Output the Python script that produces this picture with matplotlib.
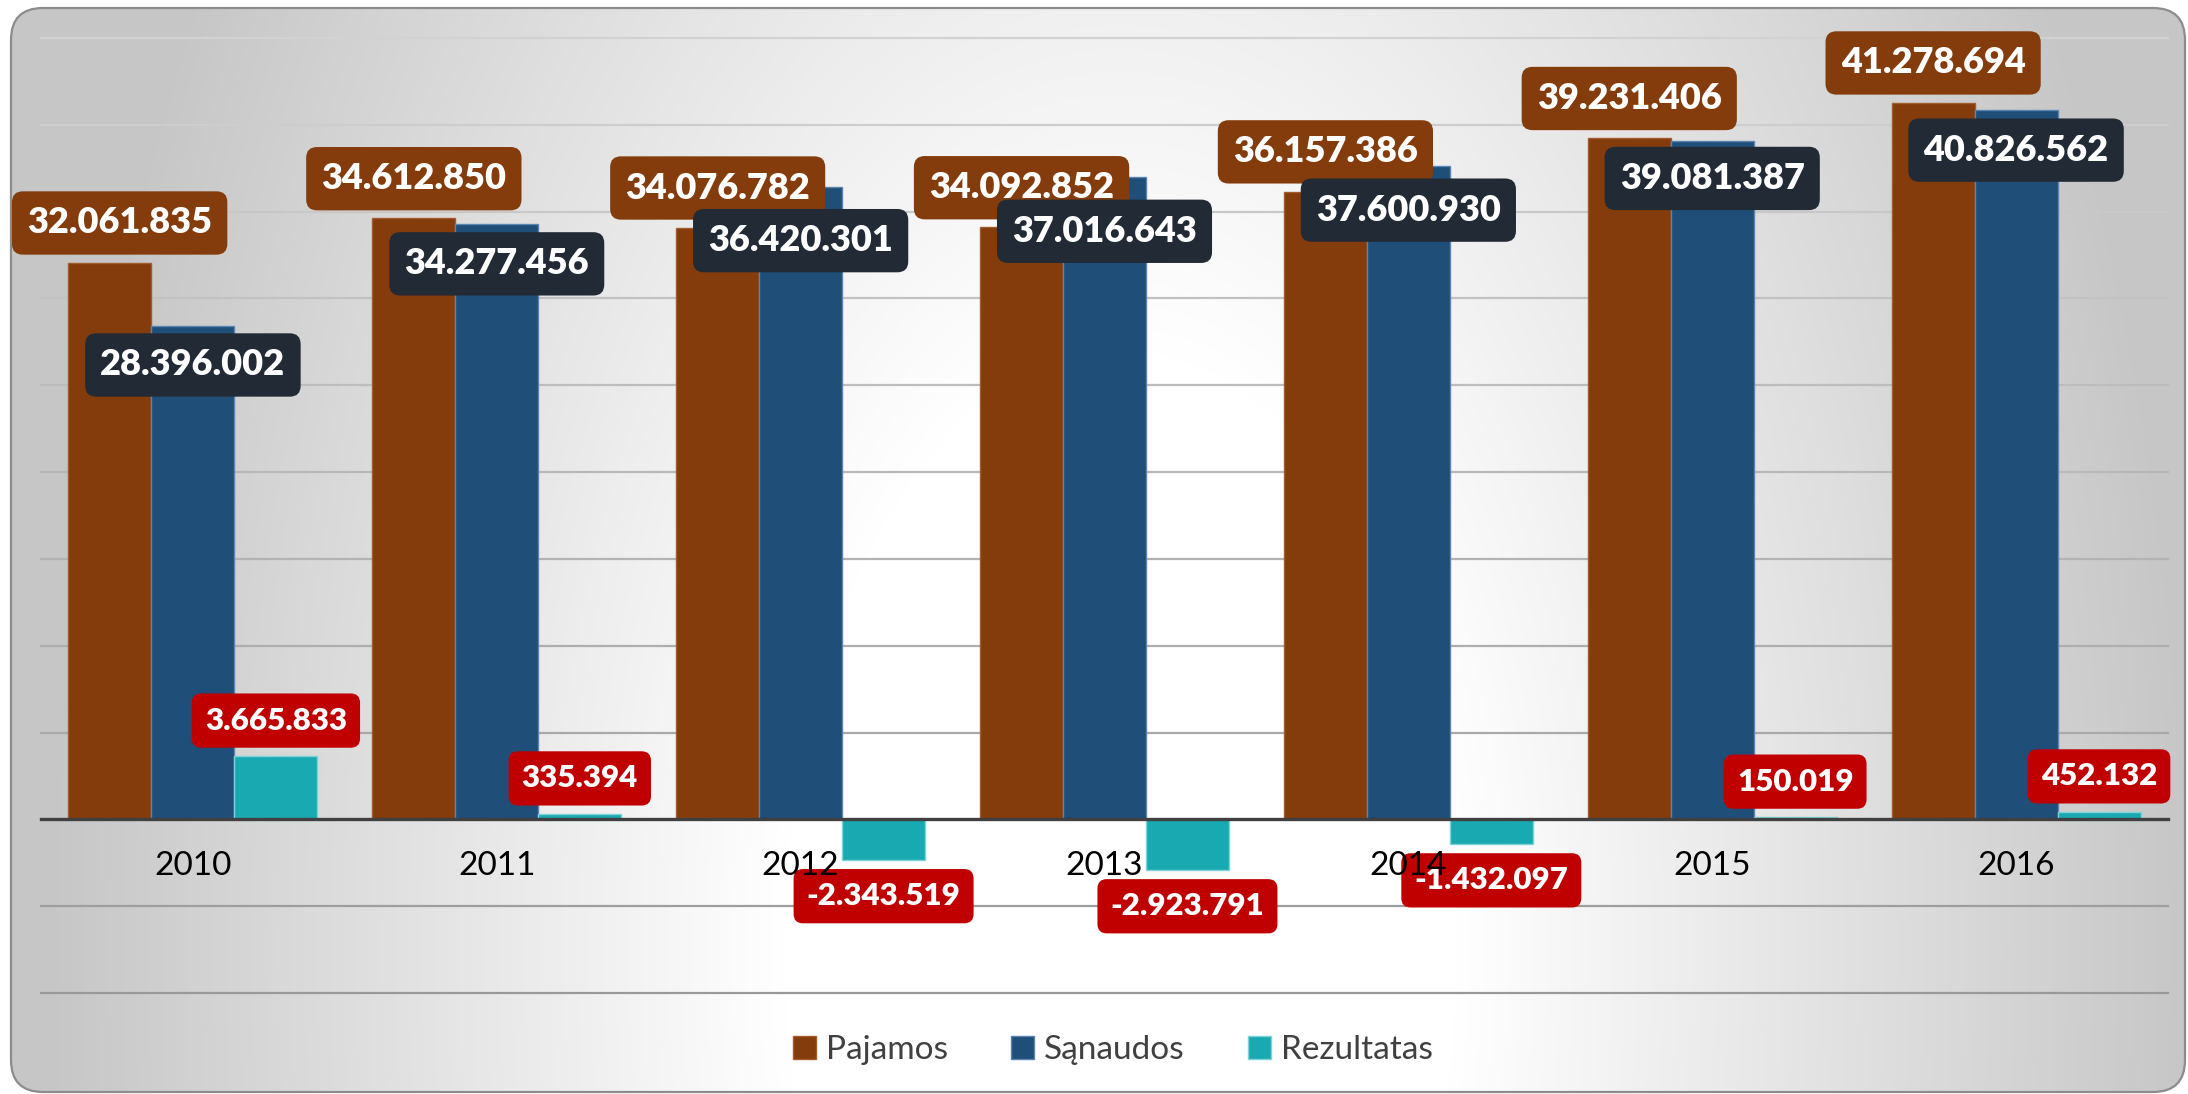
import numpy as np
import matplotlib
matplotlib.use("Agg")
import matplotlib.pyplot as plt
from matplotlib.patches import FancyBboxPatch, Patch
from matplotlib.colors import to_rgb

# ---------------- data ----------------
years = ["2010", "2011", "2012", "2013", "2014", "2015", "2016"]
pajamos = [32061835, 34612850, 34076782, 34092852, 36157386, 39231406, 41278694]
sanaudos = [28396002, 34277456, 36420301, 37016643, 37600930, 39081387, 40826562]
rezultatas = [3665833, 335394, -2343519, -2923791, -1432097, 150019, 452132]
series_names = ["Pajamos", "Sąnaudos", "Rezultatas"]

# ---------------- layout / style ----------------
W, H, DPI = 2188, 1094, 100
PX2PT = 72.0 / DPI
bar_colors = ["#843C0C", "#1F4E79", "#19A9B1"]
edge_colors = ["#A65A2E", "#5B85B0", "#7FD3D8"]
label_colors = ["#843C0C", "#222A35", "#C00000"]
sanaudos_gap_px = [7, 8, 22, 23, 12, 6, 8]

plt.rcParams["font.family"] = ["Lato", "DejaVu Sans"]

fig = plt.figure(figsize=(W / DPI, H / DPI), dpi=DPI)
fig.patch.set_facecolor("white")

# background rounded panel with radial gradient
bg = fig.add_axes([0, 0, 1, 1], zorder=-10)
bg.set_xlim(0, W)
bg.set_ylim(H, 0)
bg.axis("off")
yy, xx = np.mgrid[0:H, 0:W]
d = np.sqrt(((xx - 1120) / 1120.0) ** 2 + ((yy - 950) / 2000.0) ** 2)
t = np.clip((d - 0.3) / 0.65, 0, 1)
g = 1 - (1 - 0.78) * t
img = np.dstack([g, g, g])
im = bg.imshow(img, extent=(0, W, H, 0), interpolation="bilinear", aspect="auto")
frame = FancyBboxPatch((11, 8), 2174, 1084, boxstyle="round,pad=0,rounding_size=32",
                       facecolor="none", edgecolor="#8c8c8c", lw=1.6)
bg.add_patch(frame)
im.set_clip_path(frame)

# main axes
ax = fig.add_axes([41 / W, (H - 993) / H, (2168 - 41) / W, (993 - 38) / H])
ax.set_facecolor("none")
x = np.arange(len(years))
bw = 0.273
ax.set_xlim(-0.5, len(years) - 0.5)
ax.set_ylim(-10e6, 45e6)
ax.set_yticks(np.arange(-10e6, 45e6 + 1, 5e6))

# gridlines (lighter at top, darker at bottom)
yt = ax.get_yticks()
c_top = np.array(to_rgb("#d2d2d2"))
c_bot = np.array(to_rgb("#999999"))
for yv in yt:
    if yv == 0:
        continue
    f = (yv - yt.min()) / (yt.max() - yt.min())
    c = c_bot + (c_top - c_bot) * f
    ax.axhline(yv, color=tuple(c), lw=1.6, zorder=0.5, clip_on=False)

all_series = [pajamos, sanaudos, rezultatas]
offsets = [-bw, 0, bw]
for vals, off, fc, ec, name in zip(all_series, offsets, bar_colors, edge_colors, series_names):
    ax.bar(x + off, vals, width=bw, color=fc, edgecolor=ec, linewidth=1.0, zorder=2, label=name)

for s in ["top", "left", "right"]:
    ax.spines[s].set_visible(False)
ax.spines["bottom"].set_position(("data", 0))
ax.spines["bottom"].set_color("#404040")
ax.spines["bottom"].set_linewidth(2.4)
ax.set_axisbelow(False)
ax.set_xticks(x)
ax.set_xticklabels(years)
ax.tick_params(axis="x", length=0, pad=23, labelsize=24, labelcolor="black")
ax.tick_params(axis="y", left=False, labelleft=False)


def fmt(v):
    s = f"{abs(v):,}".replace(",", ".")
    return ("-" if v < 0 else "") + s


def add_label(xv, yv, text, fc, fs, off_px, va):
    return ax.annotate(text, (xv, yv), xytext=(0, off_px * PX2PT), textcoords="offset points",
                       ha="center", va=va, fontsize=fs, fontweight="heavy", color="white",
                       zorder=2.2,
                       bbox=dict(boxstyle="round,pad=0.42,rounding_size=0.3", fc=fc, ec="none"))


anns = []
FS_BIG, FS_RED = 26, 22.5
pad_big = 0.42 * FS_BIG / PX2PT
pad_red = 0.42 * FS_RED / PX2PT
for i in range(len(years)):
    anns.append(add_label(x[i] - bw, pajamos[i], fmt(pajamos[i]), label_colors[0], FS_BIG,
                          8 + pad_big, "bottom"))
    anns.append(add_label(x[i], sanaudos[i], fmt(sanaudos[i]), label_colors[1], FS_BIG,
                          -(sanaudos_gap_px[i] + pad_big), "top"))
    r = rezultatas[i]
    if r >= 0:
        anns.append(add_label(x[i] + bw, r, fmt(r), label_colors[2], FS_RED, 8 + pad_red, "bottom"))
    else:
        anns.append(add_label(x[i] + bw, r, fmt(r), label_colors[2], FS_RED, -(9 + pad_red), "top"))

# keep labels inside the chart panel
fig.canvas.draw()
renderer = fig.canvas.get_renderer()
for a in anns:
    bb = a.get_bbox_patch().get_window_extent(renderer)
    dx = 0
    if bb.x0 < 12:
        dx = 12 - bb.x0
    elif bb.x1 > W - 14:
        dx = (W - 14) - bb.x1
    if dx:
        ox, oy = a.xyann
        a.xyann = (ox + dx * PX2PT, oy)

handles = [Patch(facecolor=c, edgecolor=e, lw=1) for c, e in zip(bar_colors, edge_colors)]
leg = fig.legend(handles, series_names, loc="center", bbox_to_anchor=(1113 / W, 1 - 1050 / H),
                 ncol=3, frameon=True, fontsize=24, handlelength=0.68, handleheight=0.68,
                 handletextpad=0.3, columnspacing=1.9, borderpad=0.5)
leg.get_frame().set_facecolor("white")
leg.get_frame().set_alpha(0.35)
leg.get_frame().set_edgecolor("none")
for tx in leg.get_texts():
    tx.set_color("#404040")

fig.savefig("out.png", dpi=DPI)
